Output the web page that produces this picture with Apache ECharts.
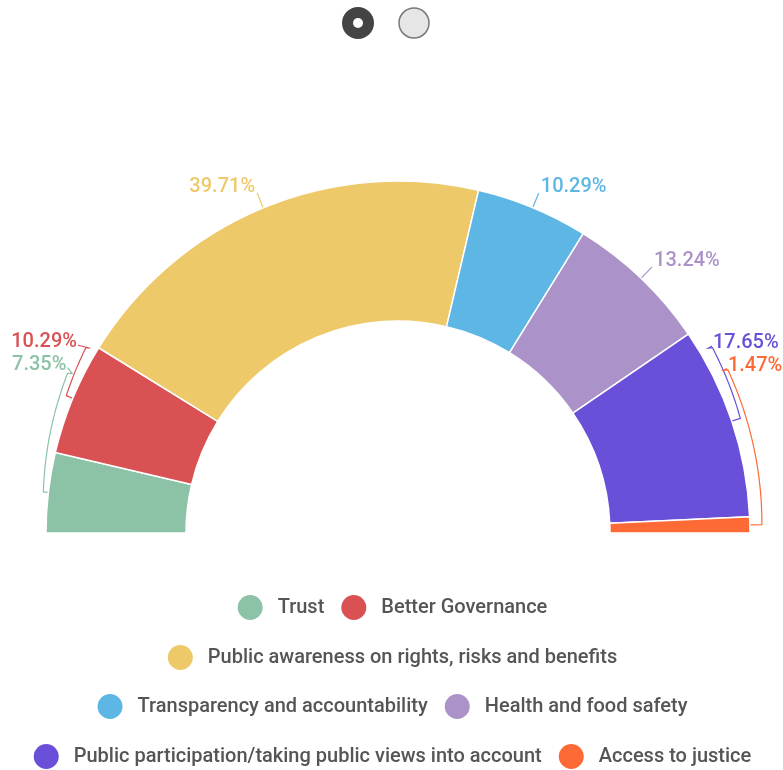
<!DOCTYPE html>
<html>
<head>
<meta charset="utf-8">
<script src="https://cdn.jsdelivr.net/npm/echarts@6/dist/echarts.min.js"></script>
<style>
html,body{margin:0;padding:0;background:#fff;}
#c{width:783px;height:770px;}
</style>
</head>
<body>
<div id="c"></div>
<script>
const categories = [
  "Trust",
  "Better Governance",
  "Public awareness on rights, risks and benefits",
  "Transparency and accountability",
  "Health and food safety",
  "Public participation/taking public views into account",
  "Access to justice"
];
const percentValues = [7.35, 10.29, 39.71, 10.29, 13.24, 17.65, 1.47];
const colors = ["#8cc2a5", "#d95153", "#eec96a", "#5db6e4", "#ab92c8", "#6a50d9", "#fd6a35"];
const legendRows = [
  ["Trust", "Better Governance"],
  ["Public awareness on rights, risks and benefits"],
  ["Transparency and accountability", "Health and food safety"],
  ["Public participation/taking public views into account", "Access to justice"]
];

// pie layout (style)
const CX = 398, CY = 533, R_IN = 212, R_OUT = 352;

// bracket-style guides for crowded small slices (style):
// label shift dx/dy, bracket start radius r0, end radius r1, end angle a1 (deg)
const bracketStyle = {
  0: {dx: 36, dy: -126, r0: 357, r1: 367, a1: 154.2, side: -1},
  1: {dx: 21, dy: -50, r0: 359, r1: 363, a1: 149.3, side: -1},
  5: {dx: -36, dy: -73, r0: 361, r1: 365, a1: 30.5, side: 1},
  6: {dx: -40, dy: -159, r0: 364, r1: 368, a1: 26.3, side: 1}
};

const chart = echarts.init(document.getElementById('c'), null, {renderer: 'canvas'});

const data = categories.map((name, i) => ({
  name: name,
  value: percentValues[i],
  itemStyle: {color: colors[i]},
  label: {color: colors[i]},
  labelLine: {lineStyle: {color: colors[i]}}
}));

const legendTops = [588, 638, 687, 737];
const legends = legendRows.map((row, i) => ({
  data: row,
  top: legendTops[i],
  left: 'center',
  orient: 'horizontal',
  icon: 'circle',
  itemWidth: 27,
  itemHeight: 27,
  itemGap: 15,
  selectedMode: false,
  textStyle: {
    fontFamily: 'Roboto',
    fontSize: 20,
    fontWeight: 500,
    color: '#555',
    padding: [0, 0, 0, 9]
  }
}));

function pt(r, deg) {
  const a = deg * Math.PI / 180;
  return [CX + r * Math.cos(a), CY - r * Math.sin(a)];
}

chart.setOption({
  animation: false,
  color: colors,
  legend: legends,
  graphic: [
    {type: 'circle', shape: {cx: 358, cy: 23, r: 16}, style: {fill: '#444'}},
    {type: 'circle', shape: {cx: 358, cy: 23, r: 5}, style: {fill: '#fff'}},
    {type: 'circle', shape: {cx: 414, cy: 23, r: 15}, style: {fill: '#e6e6e6', stroke: '#777', lineWidth: 1.5}}
  ],
  series: [{
    type: 'pie',
    center: [CX, CY],
    radius: [R_IN, R_OUT],
    startAngle: 180,
    endAngle: 0,
    clockwise: true,
    avoidLabelOverlap: false,
    itemStyle: {borderColor: '#fff', borderWidth: 1.5},
    label: {
      show: true,
      position: 'outside',
      formatter: p => p.value.toFixed(2) + '%',
      fontFamily: 'Roboto',
      fontSize: 20,
      fontWeight: 500,
      width: 72,
      overflow: 'none',
      distanceToLabelLine: 2
    },
    labelLine: {
      show: true,
      length: 16,
      length2: 0,
      lineStyle: {width: 1.2}
    },
    labelLayout: function (params) {
      const b = bracketStyle[params.dataIndex];
      if (!b) {
        return {verticalAlign: 'bottom', dy: 4};
      }
      const anchor = params.labelLinePoints[0];
      const am = Math.atan2(CY - anchor[1], anchor[0] - CX) * 180 / Math.PI;
      const pts = [anchor.slice()];
      const n = 24;
      for (let k = 0; k <= n; k++) {
        const t = k / n;
        pts.push(pt(b.r0 + (b.r1 - b.r0) * t, am + (b.a1 - am) * t));
      }
      const rect = params.labelRect;
      const cy = rect.y + rect.height / 2 + b.dy;
      const inner = pt(b.r1 - 5, b.a1);
      pts.push([inner[0], inner[1] - 2]);
      const lx = b.side < 0 ? rect.x + rect.width + b.dx + 1 : rect.x + b.dx - 1;
      pts.push([lx, cy + 3]);
      return {dx: b.dx, dy: b.dy, labelLinePoints: pts};
    },
    data: data
  }]
});
</script>
</body>
</html>
